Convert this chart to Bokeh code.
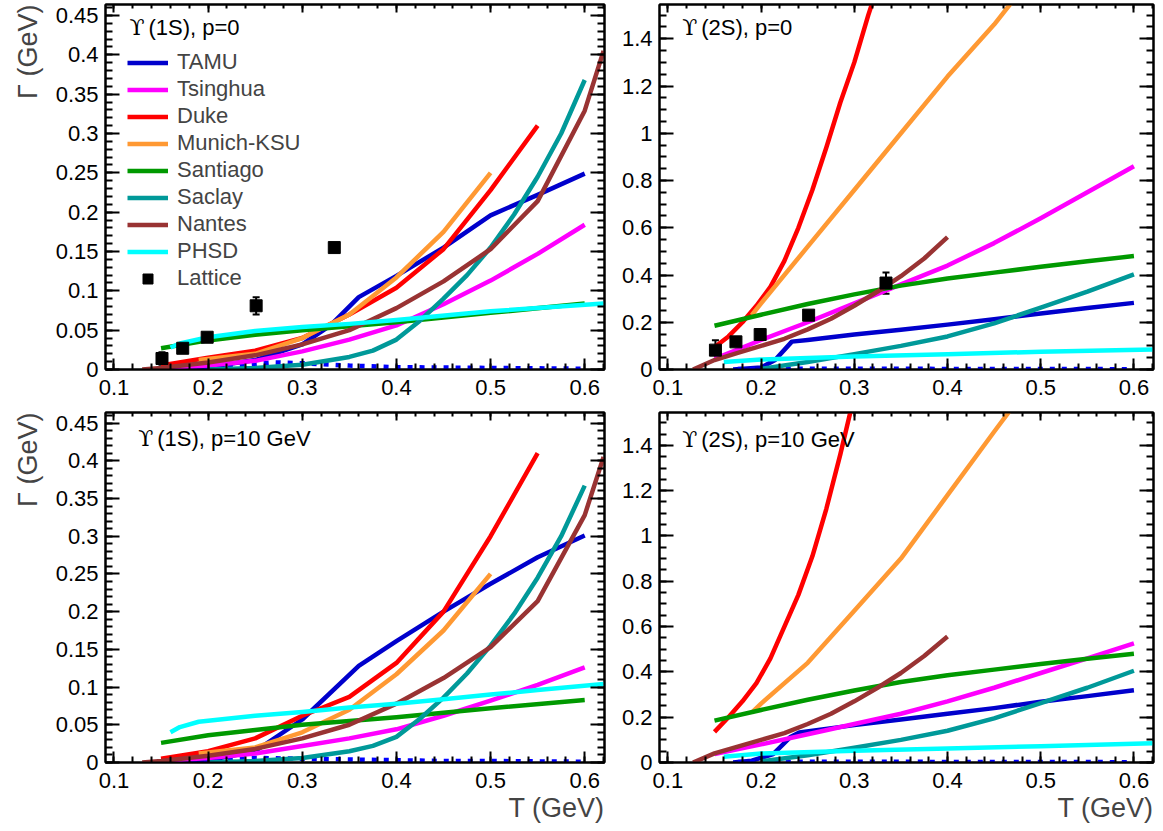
from bokeh.plotting import figure
from bokeh.layouts import column, row
from bokeh.models import (ColumnDataSource, Legend, LegendItem, Label, Title, LinearAxis,
                          FixedTicker, CustomJSTickFormatter, Range1d, Whisker, TeeHead)
from bokeh.embed import file_html
from bokeh.resources import INLINE

# ---------------- axis ticks / labels ----------------
X_TICKS = [0.1, 0.2, 0.3, 0.4, 0.5, 0.6]
X_LABELS = ["0.1", "0.2", "0.3", "0.4", "0.5", "0.6"]
Y1S_TICKS = [0, 0.05, 0.1, 0.15, 0.2, 0.25, 0.3, 0.35, 0.4, 0.45]
Y1S_LABELS = ["0", "0.05", "0.1", "0.15", "0.2", "0.25", "0.3", "0.35", "0.4", "0.45"]
Y2S_TICKS = [0, 0.2, 0.4, 0.6, 0.8, 1.0, 1.2, 1.4]
Y2S_LABELS = ["0", "0.2", "0.4", "0.6", "0.8", "1", "1.2", "1.4"]

MODELS = ["TAMU", "Tsinghua", "Duke", "Munich-KSU", "Santiago", "Saclay", "Nantes", "PHSD"]
COLORS = ["#0000cc", "#ff00ff", "#ff0000", "#ff9933", "#009900", "#009999", "#993333", "#00ffff"]
PANEL_STATES = ["(1S), p=0", "(2S), p=0", "(1S), p=10 GeV", "(2S), p=10 GeV"]
UPSILON = "ϒ"

# ---------------- Upsilon(1S), p = 0 ----------------
T_1S_P0_TAMU = [0.17, 0.2, 0.25, 0.3, 0.33, 0.36, 0.4, 0.45, 0.5, 0.55, 0.6]
G_1S_P0_TAMU = [0.0, 0.003, 0.012, 0.032, 0.056, 0.092, 0.119, 0.155, 0.196, 0.222, 0.249]
T_1S_P0_TAMU_DOT = [0.17, 0.2, 0.25, 0.27, 0.3, 0.35, 0.4, 0.5, 0.6]
G_1S_P0_TAMU_DOT = [0.001, 0.003, 0.007, 0.009, 0.008, 0.005, 0.003, 0.002, 0.001]
T_1S_P0_TSINGHUA = [0.15, 0.2, 0.25, 0.3, 0.35, 0.4, 0.45, 0.5, 0.55, 0.6]
G_1S_P0_TSINGHUA = [0.002, 0.005, 0.011, 0.023, 0.038, 0.056, 0.083, 0.113, 0.147, 0.184]
T_1S_P0_DUKE = [0.15, 0.2, 0.25, 0.3, 0.35, 0.4, 0.45, 0.5, 0.55]
G_1S_P0_DUKE = [0.005, 0.015, 0.024, 0.04, 0.07, 0.104, 0.153, 0.228, 0.31]
T_1S_P0_MUNICH = [0.19, 0.25, 0.3, 0.35, 0.4, 0.45, 0.5]
G_1S_P0_MUNICH = [0.012, 0.02, 0.04, 0.07, 0.117, 0.175, 0.25]
T_1S_P0_SANTIAGO = [0.15, 0.2, 0.25, 0.3, 0.4, 0.5, 0.6]
G_1S_P0_SANTIAGO = [0.027, 0.037, 0.044, 0.05, 0.06, 0.072, 0.084]
T_1S_P0_SACLAY = [0.2, 0.25, 0.3, 0.35, 0.375, 0.4, 0.425, 0.45, 0.475, 0.5, 0.525, 0.55, 0.575, 0.6]
G_1S_P0_SACLAY = [0.0, 0.002, 0.006, 0.016, 0.024, 0.038, 0.062, 0.09, 0.12, 0.155, 0.197, 0.245, 0.3, 0.368]
T_1S_P0_NANTES = [0.13, 0.15, 0.2, 0.25, 0.3, 0.35, 0.4, 0.45, 0.5, 0.55, 0.6, 0.62]
G_1S_P0_NANTES = [0.0, 0.002, 0.009, 0.018, 0.032, 0.05, 0.078, 0.112, 0.153, 0.214, 0.329, 0.405]
T_1S_P0_PHSD = [0.16, 0.17, 0.2, 0.25, 0.3, 0.35, 0.4, 0.5, 0.62]
G_1S_P0_PHSD = [0.028, 0.033, 0.041, 0.049, 0.054, 0.058, 0.063, 0.074, 0.084]
T_1S_LATTICE = [0.151, 0.173, 0.199, 0.251, 0.334]
G_1S_LATTICE = [0.014, 0.027, 0.041, 0.081, 0.155]
E_1S_LATTICE = [0.008, 0.006, 0.004, 0.011, 0.003]

# ---------------- Upsilon(2S), p = 0 ----------------
T_2S_P0_TAMU = [0.17, 0.2, 0.215, 0.233, 0.25, 0.3, 0.35, 0.4, 0.45, 0.5, 0.55, 0.6]
G_2S_P0_TAMU = [0.0, 0.008, 0.04, 0.118, 0.125, 0.148, 0.168, 0.19, 0.213, 0.237, 0.26, 0.282]
T_2S_P0_TAMU_DOT = [0.175, 0.25, 0.35, 0.45, 0.55, 0.6]
G_2S_P0_TAMU_DOT = [0.002, 0.003, 0.003, 0.002, 0.002, 0.001]
T_2S_P0_TSINGHUA = [0.15, 0.2, 0.25, 0.3, 0.35, 0.4, 0.45, 0.5, 0.55, 0.6]
G_2S_P0_TSINGHUA = [0.045, 0.125, 0.2, 0.28, 0.36, 0.44, 0.535, 0.64, 0.75, 0.86]
T_2S_P0_DUKE = [0.15, 0.165, 0.18, 0.195, 0.21, 0.225, 0.24, 0.255, 0.27, 0.285, 0.3, 0.315, 0.325]
G_2S_P0_DUKE = [0.094, 0.14, 0.2, 0.27, 0.35, 0.46, 0.6, 0.76, 0.94, 1.13, 1.3, 1.5, 1.62]
T_2S_P0_MUNICH = [0.19, 0.2, 0.25, 0.3, 0.35, 0.4, 0.45, 0.47]
G_2S_P0_MUNICH = [0.23, 0.28, 0.52, 0.76, 1.0, 1.24, 1.46, 1.56]
T_2S_P0_SANTIAGO = [0.15, 0.2, 0.25, 0.3, 0.35, 0.4, 0.45, 0.5, 0.55, 0.6]
G_2S_P0_SANTIAGO = [0.185, 0.232, 0.277, 0.318, 0.355, 0.385, 0.41, 0.435, 0.458, 0.48]
T_2S_P0_SACLAY = [0.2, 0.25, 0.3, 0.35, 0.4, 0.45, 0.5, 0.55, 0.6]
G_2S_P0_SACLAY = [0.003, 0.032, 0.065, 0.1, 0.14, 0.195, 0.262, 0.33, 0.403]
T_2S_P0_NANTES = [0.127, 0.15, 0.175, 0.2, 0.225, 0.25, 0.275, 0.3, 0.325, 0.35, 0.375, 0.4]
G_2S_P0_NANTES = [0.0, 0.04, 0.07, 0.1, 0.13, 0.17, 0.215, 0.27, 0.33, 0.395, 0.47, 0.56]
T_2S_P0_PHSD = [0.16, 0.2, 0.3, 0.4, 0.5, 0.62]
G_2S_P0_PHSD = [0.032, 0.042, 0.055, 0.065, 0.075, 0.085]
T_2S_LATTICE = [0.151, 0.173, 0.199, 0.251, 0.334]
G_2S_LATTICE = [0.082, 0.117, 0.148, 0.23, 0.366]
E_2S_LATTICE = [0.042, 0.01, 0.01, 0.01, 0.045]

# ---------------- Upsilon(1S), p = 10 GeV ----------------
T_1S_P10_TAMU = [0.17, 0.2, 0.25, 0.3, 0.36, 0.4, 0.45, 0.5, 0.55, 0.6]
G_1S_P10_TAMU = [0.0, 0.003, 0.015, 0.057, 0.128, 0.161, 0.2, 0.237, 0.272, 0.301]
T_1S_P10_TAMU_DOT = [0.17, 0.2, 0.25, 0.3, 0.35, 0.4, 0.45, 0.5, 0.55, 0.6]
G_1S_P10_TAMU_DOT = [0.001, 0.003, 0.006, 0.005, 0.004, 0.003, 0.002, 0.002, 0.0015, 0.001]
T_1S_P10_TSINGHUA = [0.15, 0.2, 0.25, 0.3, 0.35, 0.4, 0.45, 0.5, 0.55, 0.6]
G_1S_P10_TSINGHUA = [0.002, 0.006, 0.012, 0.022, 0.032, 0.044, 0.062, 0.082, 0.103, 0.126]
T_1S_P10_DUKE = [0.15, 0.2, 0.25, 0.3, 0.35, 0.4, 0.45, 0.5, 0.55]
G_1S_P10_DUKE = [0.005, 0.015, 0.032, 0.062, 0.087, 0.132, 0.2, 0.3, 0.41]
T_1S_P10_MUNICH = [0.19, 0.25, 0.3, 0.35, 0.4, 0.45, 0.5]
G_1S_P10_MUNICH = [0.012, 0.02, 0.04, 0.07, 0.117, 0.175, 0.25]
T_1S_P10_SANTIAGO = [0.15, 0.2, 0.25, 0.3, 0.4, 0.5, 0.6]
G_1S_P10_SANTIAGO = [0.026, 0.036, 0.043, 0.05, 0.06, 0.072, 0.083]
T_1S_P10_SACLAY = [0.2, 0.25, 0.3, 0.35, 0.375, 0.4, 0.425, 0.45, 0.475, 0.5, 0.525, 0.55, 0.575, 0.6]
G_1S_P10_SACLAY = [0.0, 0.002, 0.006, 0.015, 0.022, 0.034, 0.058, 0.086, 0.118, 0.155, 0.197, 0.245, 0.3, 0.367]
T_1S_P10_NANTES = [0.13, 0.15, 0.2, 0.25, 0.3, 0.35, 0.4, 0.45, 0.5, 0.55, 0.6, 0.62]
G_1S_P10_NANTES = [0.0, 0.002, 0.009, 0.018, 0.032, 0.05, 0.078, 0.112, 0.153, 0.214, 0.328, 0.405]
T_1S_P10_PHSD = [0.16, 0.17, 0.19, 0.22, 0.25, 0.3, 0.35, 0.4, 0.45, 0.5, 0.55, 0.62]
G_1S_P10_PHSD = [0.04, 0.047, 0.054, 0.058, 0.062, 0.067, 0.073, 0.078, 0.084, 0.09, 0.096, 0.104]

# ---------------- Upsilon(2S), p = 10 GeV ----------------
T_2S_P10_TAMU = [0.17, 0.19, 0.213, 0.231, 0.241, 0.3, 0.35, 0.4, 0.45, 0.5, 0.55, 0.6]
G_2S_P10_TAMU = [0.0, 0.008, 0.037, 0.111, 0.133, 0.165, 0.19, 0.215, 0.24, 0.268, 0.293, 0.319]
T_2S_P10_TAMU_DOT = [0.175, 0.25, 0.35, 0.45, 0.55, 0.6]
G_2S_P10_TAMU_DOT = [0.002, 0.003, 0.003, 0.002, 0.002, 0.001]
T_2S_P10_TSINGHUA = [0.15, 0.2, 0.25, 0.3, 0.35, 0.4, 0.45, 0.5, 0.55, 0.6]
G_2S_P10_TSINGHUA = [0.037, 0.08, 0.125, 0.17, 0.215, 0.27, 0.33, 0.395, 0.46, 0.526]
T_2S_P10_DUKE = [0.15, 0.165, 0.18, 0.195, 0.21, 0.225, 0.24, 0.255, 0.27, 0.285, 0.3]
G_2S_P10_DUKE = [0.135, 0.2, 0.27, 0.35, 0.46, 0.6, 0.74, 0.91, 1.12, 1.36, 1.62]
T_2S_P10_MUNICH = [0.19, 0.2, 0.25, 0.3, 0.35, 0.4, 0.45, 0.47]
G_2S_P10_MUNICH = [0.22, 0.26, 0.44, 0.67, 0.9, 1.18, 1.46, 1.57]
T_2S_P10_SANTIAGO = [0.15, 0.2, 0.25, 0.3, 0.35, 0.4, 0.45, 0.5, 0.55, 0.6]
G_2S_P10_SANTIAGO = [0.185, 0.232, 0.277, 0.318, 0.355, 0.385, 0.41, 0.435, 0.458, 0.48]
T_2S_P10_SACLAY = [0.2, 0.25, 0.3, 0.35, 0.4, 0.45, 0.5, 0.55, 0.6]
G_2S_P10_SACLAY = [0.005, 0.032, 0.065, 0.1, 0.14, 0.195, 0.262, 0.33, 0.405]
T_2S_P10_NANTES = [0.127, 0.15, 0.175, 0.2, 0.225, 0.25, 0.275, 0.3, 0.325, 0.35, 0.375, 0.4]
G_2S_P10_NANTES = [0.0, 0.04, 0.07, 0.1, 0.13, 0.17, 0.215, 0.27, 0.33, 0.395, 0.47, 0.556]
T_2S_P10_PHSD = [0.16, 0.2, 0.3, 0.4, 0.5, 0.62]
G_2S_P10_PHSD = [0.025, 0.04, 0.052, 0.062, 0.072, 0.085]

PANELS = [
    dict(curves=[(T_1S_P0_TAMU, G_1S_P0_TAMU), (T_1S_P0_TSINGHUA, G_1S_P0_TSINGHUA),
                 (T_1S_P0_DUKE, G_1S_P0_DUKE), (T_1S_P0_MUNICH, G_1S_P0_MUNICH),
                 (T_1S_P0_SANTIAGO, G_1S_P0_SANTIAGO), (T_1S_P0_SACLAY, G_1S_P0_SACLAY),
                 (T_1S_P0_NANTES, G_1S_P0_NANTES), (T_1S_P0_PHSD, G_1S_P0_PHSD)],
         dot=(T_1S_P0_TAMU_DOT, G_1S_P0_TAMU_DOT),
         lattice=(T_1S_LATTICE, G_1S_LATTICE, E_1S_LATTICE)),
    dict(curves=[(T_2S_P0_TAMU, G_2S_P0_TAMU), (T_2S_P0_TSINGHUA, G_2S_P0_TSINGHUA),
                 (T_2S_P0_DUKE, G_2S_P0_DUKE), (T_2S_P0_MUNICH, G_2S_P0_MUNICH),
                 (T_2S_P0_SANTIAGO, G_2S_P0_SANTIAGO), (T_2S_P0_SACLAY, G_2S_P0_SACLAY),
                 (T_2S_P0_NANTES, G_2S_P0_NANTES), (T_2S_P0_PHSD, G_2S_P0_PHSD)],
         dot=(T_2S_P0_TAMU_DOT, G_2S_P0_TAMU_DOT),
         lattice=(T_2S_LATTICE, G_2S_LATTICE, E_2S_LATTICE)),
    dict(curves=[(T_1S_P10_TAMU, G_1S_P10_TAMU), (T_1S_P10_TSINGHUA, G_1S_P10_TSINGHUA),
                 (T_1S_P10_DUKE, G_1S_P10_DUKE), (T_1S_P10_MUNICH, G_1S_P10_MUNICH),
                 (T_1S_P10_SANTIAGO, G_1S_P10_SANTIAGO), (T_1S_P10_SACLAY, G_1S_P10_SACLAY),
                 (T_1S_P10_NANTES, G_1S_P10_NANTES), (T_1S_P10_PHSD, G_1S_P10_PHSD)],
         dot=(T_1S_P10_TAMU_DOT, G_1S_P10_TAMU_DOT), lattice=None),
    dict(curves=[(T_2S_P10_TAMU, G_2S_P10_TAMU), (T_2S_P10_TSINGHUA, G_2S_P10_TSINGHUA),
                 (T_2S_P10_DUKE, G_2S_P10_DUKE), (T_2S_P10_MUNICH, G_2S_P10_MUNICH),
                 (T_2S_P10_SANTIAGO, G_2S_P10_SANTIAGO), (T_2S_P10_SACLAY, G_2S_P10_SACLAY),
                 (T_2S_P10_NANTES, G_2S_P10_NANTES), (T_2S_P10_PHSD, G_2S_P10_PHSD)],
         dot=(T_2S_P10_TAMU_DOT, G_2S_P10_TAMU_DOT), lattice=None),
]

FONT = "Liberation Sans"
LW = 4.5


def formatter(tick_values, tick_labels):
    return CustomJSTickFormatter(args=dict(tv=tick_values, tl=tick_labels), code="""
        for (let i = 0; i < tv.length; i++) {
            if (Math.abs(tv[i] - tick) < 1e-9) { return tl[i]; }
        }
        return "";
    """)


def style_axis(ax, tick_values, minor, tick_labels, tick_in, minor_in, show):
    ax.ticker = FixedTicker(ticks=tick_values, minor_ticks=minor)
    ax.axis_line_color = "black"
    ax.axis_line_width = 2
    ax.major_tick_in = tick_in
    ax.major_tick_out = 0
    ax.minor_tick_in = minor_in
    ax.minor_tick_out = 0
    ax.major_tick_line_width = 2
    ax.minor_tick_line_width = 2
    ax.major_tick_line_color = "black"
    ax.minor_tick_line_color = "black"
    if show:
        ax.formatter = formatter(tick_values, tick_labels)
        ax.major_label_text_font = FONT
        ax.major_label_text_font_size = "22px"
        ax.major_label_text_color = "black"
    else:
        ax.formatter = CustomJSTickFormatter(code="return '';")
        ax.major_label_text_font_size = "0px"
        ax.major_label_standoff = 0


def make_panel(idx, width, height, borders, is1s, ytitle, xtitle, label_pos):
    bl, br, bt, bb = borders
    ymax = 0.464 if is1s else 1.545
    p = figure(width=width, height=height,
               x_range=Range1d(0.091, 0.621), y_range=Range1d(0, ymax),
               output_backend="svg", toolbar_location=None,
               min_border_left=bl, min_border_right=br,
               min_border_top=bt, min_border_bottom=bb)
    p.grid.visible = False
    p.outline_line_color = "black"
    p.outline_line_width = 2
    p.background_fill_color = "white"
    p.border_fill_color = "white"

    xminor = [round(0.08 + 0.02 * i, 3) for i in range(30)]
    if is1s:
        yt, yl = Y1S_TICKS, Y1S_LABELS
        yminor = [round(0.01 * i, 3) for i in range(48)]
    else:
        yt, yl = Y2S_TICKS, Y2S_LABELS
        yminor = [round(0.05 * i, 3) for i in range(32)]

    style_axis(p.xaxis[0], X_TICKS, xminor, X_LABELS, 11, 6, True)
    p.xaxis[0].major_label_standoff = 10
    style_axis(p.yaxis[0], yt, yminor, yl, 14, 7, True)
    p.yaxis[0].major_label_standoff = 7

    top = LinearAxis()
    style_axis(top, X_TICKS, xminor, X_LABELS, 8, 4, False)
    p.add_layout(top, "above")
    right = LinearAxis()
    style_axis(right, yt, yminor, yl, 14, 7, False)
    p.add_layout(right, "right")

    if ytitle:
        p.add_layout(Title(text="Γ (GeV)", align="right", text_font=FONT,
                           text_font_size="27px", text_font_style="normal",
                           standoff=20), "left")
    if xtitle:
        p.add_layout(Title(text="T (GeV)", align="right", text_font=FONT,
                           text_font_size="27px", text_font_style="normal",
                           standoff=0), "below")

    panel = PANELS[idx]
    renderers = []
    for k, (xs, ys) in enumerate(panel["curves"]):
        r = p.line(xs, ys, line_color=COLORS[k], line_width=LW, line_join="round")
        renderers.append(r)
        if k == 0:
            dx, dy = panel["dot"]
            p.line(dx, dy, line_color="#0000ff", line_width=LW, line_dash="5 7")

    lat = None
    if panel["lattice"] is not None:
        lt, lg, le = panel["lattice"]
        src = ColumnDataSource(dict(x=lt, y=lg,
                                    lower=[g - e for g, e in zip(lg, le)],
                                    upper=[g + e for g, e in zip(lg, le)]))
        p.add_layout(Whisker(source=src, base="x", lower="lower", upper="upper",
                             line_color="black", line_width=2,
                             lower_head=TeeHead(size=7, line_width=2, line_color="black"),
                             upper_head=TeeHead(size=7, line_width=2, line_color="black")))
        lat = p.scatter("x", "y", source=src, marker="square", size=12,
                        fill_color="black", line_color="black")

    lx, ly = label_pos
    p.add_layout(Label(x=lx, y=ly, text=UPSILON, text_font="DejaVu Serif",
                       text_font_size="22px", text_baseline="middle", text_color="black"))
    p.add_layout(Label(x=lx, y=ly, x_offset=19, text=PANEL_STATES[idx], text_font=FONT,
                       text_font_size="22px", text_baseline="middle", text_color="black"))
    return p, renderers, lat


p1, rs1, lat1 = make_panel(0, 609, 408, (104, 5, 4, 39), True, True, False, (0.1164, 0.435))
p2, _, _ = make_panel(1, 547, 408, (50, 3, 4, 39), False, False, False, (0.1154, 1.448))
p3, _, _ = make_panel(2, 609, 423, (104, 5, 4, 69), True, True, True, (0.1257, 0.429))
p4, _, _ = make_panel(3, 547, 423, (50, 3, 4, 69), False, False, True, (0.1154, 1.4245))

items = [LegendItem(label=m, renderers=[r]) for m, r in zip(MODELS, rs1)]
items.append(LegendItem(label="Lattice", renderers=[lat1]))
legend = Legend(items=items, location=(22, 78), label_text_font=FONT,
                label_text_font_size="22px", glyph_width=41, glyph_height=25,
                label_height=25, spacing=1, padding=0, margin=0, label_standoff=9,
                border_line_color=None, background_fill_alpha=0)
p1.add_layout(legend)

layout = column(row(p1, p2), row(p3, p4))

with open("out.html", "w") as f:
    f.write(file_html(layout, INLINE))
